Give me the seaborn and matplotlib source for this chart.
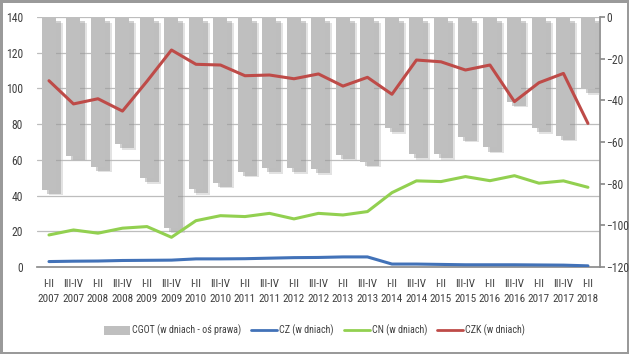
import numpy as np
import pandas as pd
import matplotlib
matplotlib.use("Agg")
import matplotlib.pyplot as plt
import matplotlib.patheffects as pe
from matplotlib.patches import Patch
from matplotlib.lines import Line2D
from matplotlib import font_manager as fm
import seaborn as sns

halves = ["I-II", "III-IV"] * 11 + ["I-II"]
years = [str(2007 + i // 2) for i in range(22)] + ["2018"]
periods = [f"{h}\n{y}" for h, y in zip(halves, years)]

cgot = [-83, -66.7, -71.9, -61.1, -77.4, -101.1, -82.7, -79.5, -74.3, -72.6, -72.6, -73.0,
        -66.2, -69.4, -53.4, -65.8, -65.8, -57.4, -62.6, -40.6, -53.4, -57.1, -34.6]
cz = [3.0, 3.2, 3.3, 3.6, 3.7, 3.8, 4.5, 4.5, 4.6, 4.9, 5.2, 5.3,
      5.6, 5.6, 1.6, 1.6, 1.4, 1.2, 1.2, 1.2, 1.1, 1.0, 0.6]
cn = [17.9, 20.7, 18.9, 21.7, 22.6, 16.6, 25.9, 28.7, 28.2, 30.0, 26.9, 30.0,
      29.1, 31.0, 41.6, 48.2, 47.8, 50.6, 48.3, 51.1, 46.9, 48.2, 44.6]
czk = [104.3, 91.3, 94.2, 87.3, 104.0, 121.5, 113.5, 113.1, 107.1, 107.5, 105.4, 108.1,
       101.3, 106.2, 96.7, 115.9, 114.9, 110.3, 113.1, 92.6, 103.2, 108.4, 80.4]

left_ticks = list(range(0, 141, 20))
right_ticks = list(range(0, -121, -20))

df = pd.DataFrame({"period": periods, "CGOT": cgot, "CZ": cz, "CN": cn, "CZK": czk})

sns.set_theme(style="white")
installed = {f.name for f in fm.fontManager.ttflist}
narrow = [n for n in ["Liberation Sans Narrow", "Roboto Condensed", "Open Sans Condensed",
                      "DejaVu Sans Condensed"] if n in installed]
plt.rcParams["font.family"] = narrow[:1] + ["Liberation Sans", "DejaVu Sans"]
cond = bool(narrow)

fs = 8 if cond else 7.2
lfs = 7.2 if cond else 6.6
fig = plt.figure(figsize=(6.29, 3.54), dpi=100)
fig.patch.set_edgecolor("#9a9a9a")
fig.patch.set_linewidth(2.5)
ax = fig.add_axes([0.0584, 0.246, 0.8958, 0.706])  # bars (right scale)
ax2 = ax.twinx()  # lines (left scale)

bar_color = "#BFBFBF"
sns.barplot(data=df, x="period", y="CGOT", color=bar_color, width=0.57,
            saturation=1, ax=ax, zorder=3, edgecolor="none", linewidth=0)
for p in ax.patches:
    p.set_path_effects([
        pe.SimplePatchShadow(offset=(5, -4), shadow_rgbFace="#b8b8b8", alpha=0.4),
        pe.SimplePatchShadow(offset=(3.5, -3), shadow_rgbFace="#8a8a8a", alpha=0.4),
        pe.Normal()])

ax.set_ylim(-120, 0)
ax.set_yticks(right_ticks)
ax.yaxis.tick_right()
ax.yaxis.set_label_position("right")
ax.set_xlim(-0.5, len(periods) - 0.5)

ax2.set_ylim(0, 140)
ax2.set_yticks(left_ticks)
ax2.yaxis.tick_left()

# gridlines for left axis drawn behind bars
for v in left_ticks[1:]:
    ax.axhline(-120 + v * 120 / 140, color="#bdbdbd", lw=0.9, zorder=1)

colors = {"CZ": "#4272B8", "CN": "#92D050", "CZK": "#BE4B48"}
for col in ["CZ", "CN", "CZK"]:
    sns.lineplot(data=df, x="period", y=col, sort=False, color=colors[col], lw=2.2,
                 ax=ax2, legend=False)

for a in (ax, ax2):
    a.set_xlabel("")
    a.set_ylabel("")
    for s in a.spines.values():
        s.set_visible(False)

ax.spines["right"].set_visible(True)
ax.spines["right"].set_color("#8c8c8c")
ax.spines["bottom"].set_visible(True)
ax.spines["bottom"].set_color("#8c8c8c")
ax.tick_params(axis="y", right=True, length=3.5, color="#8c8c8c", labelsize=fs + 0.4,
               labelcolor="#404040", pad=1)
ax.tick_params(axis="x", bottom=False, labelsize=fs, labelcolor="#404040", pad=3)
ax2.tick_params(axis="y", left=False, labelsize=fs + 0.4, labelcolor="#404040", pad=4)
for t in ax.get_xticklabels():
    t.set_linespacing(1.6)
ax.set_facecolor("none")

handles = [Patch(facecolor=bar_color, edgecolor="none"),
           Line2D([], [], color=colors["CZ"], lw=2),
           Line2D([], [], color=colors["CN"], lw=2),
           Line2D([], [], color=colors["CZK"], lw=2)]
labels = ["CGOT (w dniach - oś prawa)", "CZ (w dniach)", "CN (w dniach)", "CZK (w dniach)"]
fig.legend(handles, labels, loc="center", bbox_to_anchor=(0.5, 0.067), ncol=4, frameon=False,
           fontsize=lfs, handlelength=2.6, handleheight=1.0, columnspacing=1.0, handletextpad=0.2,
           labelcolor="#404040")

fig.savefig("out.png", dpi=100, edgecolor=fig.get_edgecolor())
